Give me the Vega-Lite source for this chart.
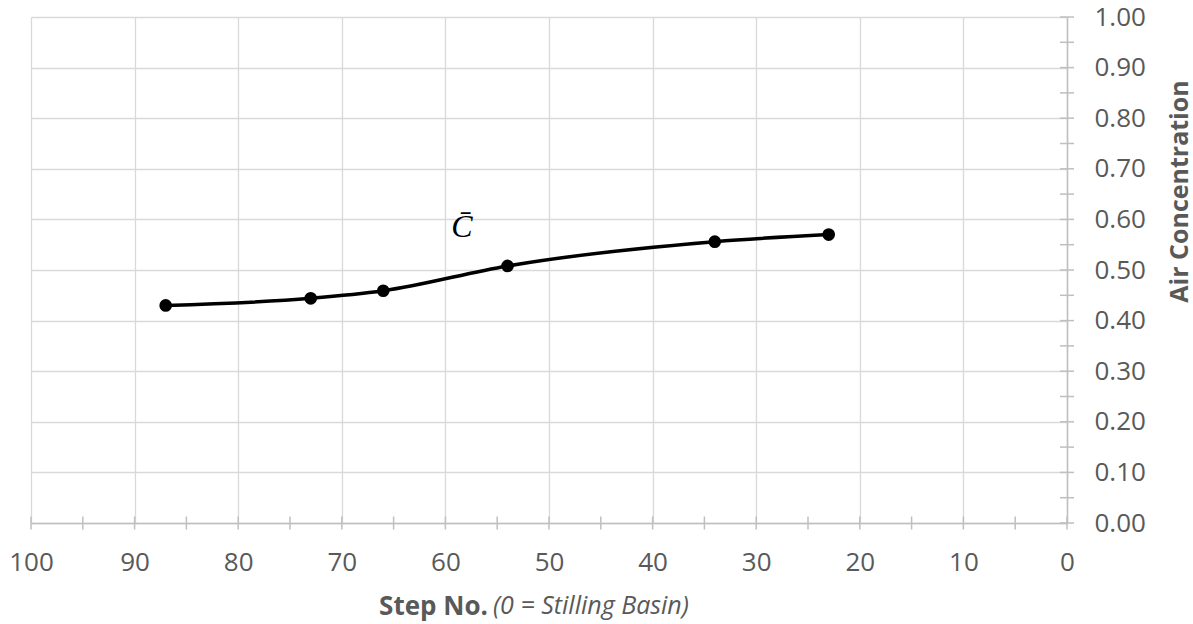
{
  "$schema": "https://vega.github.io/schema/vega-lite/v6.json",
  "autosize": {"type": "none"},
  "width": 1036,
  "height": 506,
  "padding": {"left": 31, "top": 17, "right": 126, "bottom": 101},
  "background": "white",
  "config": {
    "view": {"stroke": null},
    "font": "Open Sans",
    "axis": {"labelFont": "Open Sans", "titleFont": "Open Sans", "labelColor": "#595959", "titleColor": "#595959"}
  },
  "title": {
    "text": "(0 = Stilling Basin)",
    "orient": "bottom",
    "anchor": "start",
    "frame": "group",
    "dx": 462,
    "dy": -29,
    "font": "Open Sans",
    "fontSize": 25,
    "fontStyle": "italic",
    "fontWeight": "normal",
    "color": "#595959"
  },
  "datasets": {
    "series": [
      {"step": 87, "c": 0.430},
      {"step": 73, "c": 0.444},
      {"step": 66, "c": 0.459},
      {"step": 54, "c": 0.508},
      {"step": 34, "c": 0.556},
      {"step": 23, "c": 0.570}
    ],
    "xticks": [
      {"step": 0}, {"step": 5}, {"step": 10}, {"step": 15}, {"step": 20}, {"step": 25}, {"step": 30},
      {"step": 35}, {"step": 40}, {"step": 45}, {"step": 50}, {"step": 55}, {"step": 60}, {"step": 65},
      {"step": 70}, {"step": 75}, {"step": 80}, {"step": 85}, {"step": 90}, {"step": 95}, {"step": 100}
    ],
    "yticks": [
      {"c": 0}, {"c": 0.05}, {"c": 0.1}, {"c": 0.15}, {"c": 0.2}, {"c": 0.25}, {"c": 0.3},
      {"c": 0.35}, {"c": 0.4}, {"c": 0.45}, {"c": 0.5}, {"c": 0.55}, {"c": 0.6}, {"c": 0.65},
      {"c": 0.7}, {"c": 0.75}, {"c": 0.8}, {"c": 0.85}, {"c": 0.9}, {"c": 0.95}, {"c": 1}
    ],
    "labels": [
      {"step": 58.4, "c": 0.585, "label": "C̄"}
    ]
  },
  "layer": [
    {
      "data": {"name": "series"},
      "mark": {"type": "line", "color": "black", "strokeWidth": 3.5, "interpolate": "monotone"},
      "encoding": {
        "x": {
          "field": "step", "type": "quantitative",
          "scale": {"domain": [0, 100], "reverse": true, "nice": false, "zero": false},
          "axis": {
            "values": [0, 10, 20, 30, 40, 50, 60, 70, 80, 90, 100],
            "ticks": false,
            "domainColor": "#bfbfbf", "domainWidth": 1.5,
            "gridColor": "#d9d9d9", "gridWidth": 1.3, "grid": true,
            "labelFontSize": 26, "labelPadding": 26, "labelFlush": false,
            "title": "Step No.", "titleFontSize": 26, "titleFontWeight": "bold",
            "titleX": 402, "titleY": 91, "titleBaseline": "alphabetic", "titleAlign": "center"
          }
        },
        "y": {
          "field": "c", "type": "quantitative",
          "scale": {"domain": [0, 1], "nice": false},
          "axis": {
            "orient": "right",
            "values": [0, 0.1, 0.2, 0.3, 0.4, 0.5, 0.6, 0.7, 0.8, 0.9, 1],
            "format": ".2f",
            "ticks": false,
            "domainColor": "#bfbfbf", "domainWidth": 1.5,
            "gridColor": "#d9d9d9", "gridWidth": 1.3, "grid": true,
            "labelFontSize": 26, "labelPadding": 27, "labelFlush": false,
            "title": "Air Concentration", "titleFontSize": 25, "titleFontWeight": "bold",
            "titleAngle": 270, "titleX": 112, "titleY": 174, "titleBaseline": "middle", "titleAlign": "center"
          }
        }
      }
    },
    {
      "data": {"name": "series"},
      "mark": {"type": "point", "filled": true, "color": "black", "size": 160, "opacity": 1},
      "encoding": {
        "x": {"field": "step", "type": "quantitative"},
        "y": {"field": "c", "type": "quantitative"}
      }
    },
    {
      "data": {"name": "xticks"},
      "mark": {"type": "tick", "orient": "vertical", "color": "#bfbfbf", "size": 13, "thickness": 1.5, "opacity": 1, "clip": false},
      "encoding": {
        "x": {"field": "step", "type": "quantitative"},
        "y": {"datum": 0, "type": "quantitative"}
      }
    },
    {
      "data": {"name": "yticks"},
      "mark": {"type": "tick", "orient": "horizontal", "color": "#bfbfbf", "size": 14, "thickness": 1.5, "opacity": 1, "clip": false},
      "encoding": {
        "x": {"datum": 0, "type": "quantitative"},
        "y": {"field": "c", "type": "quantitative"}
      }
    },
    {
      "data": {"name": "labels"},
      "mark": {"type": "text", "font": "Liberation Serif", "fontStyle": "italic", "fontSize": 32, "color": "black", "align": "center", "baseline": "middle"},
      "encoding": {
        "x": {"field": "step", "type": "quantitative"},
        "y": {"field": "c", "type": "quantitative"},
        "text": {"field": "label"}
      }
    }
  ]
}
